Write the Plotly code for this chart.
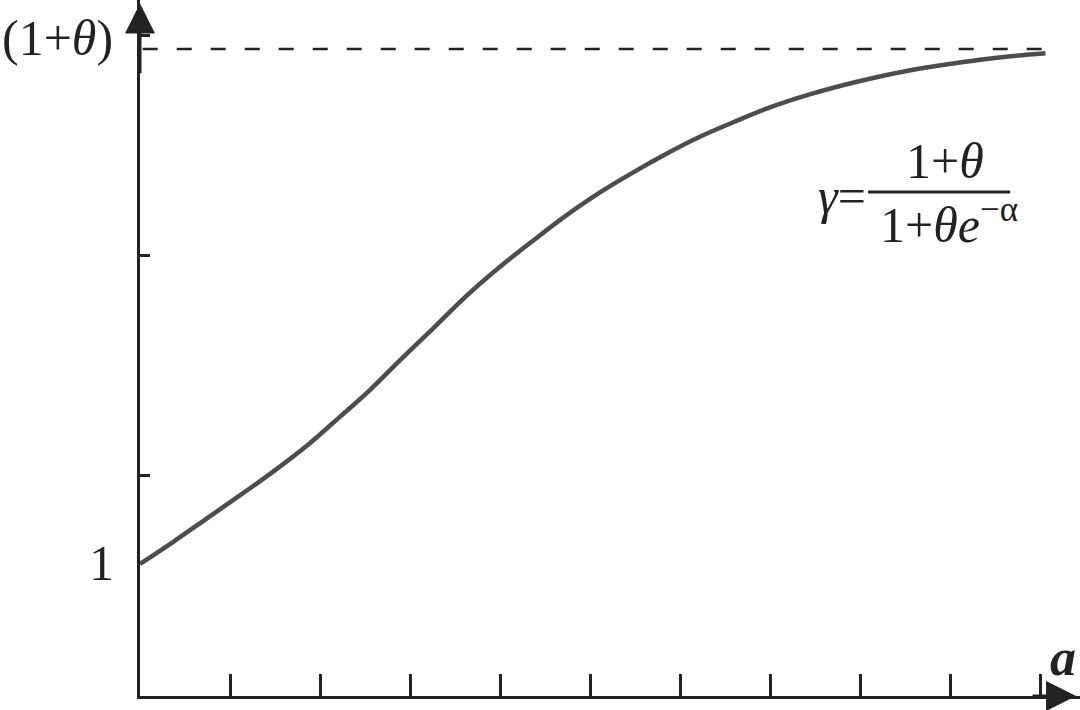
import plotly.graph_objects as go

# Curve gamma(alpha)
alpha = [0.0, 0.37, 0.74, 1.11, 1.48, 1.86, 2.22, 2.56, 2.89, 3.26, 3.63, 4.0,
         4.37, 4.74, 5.11, 5.48, 5.86, 6.22, 6.59, 6.97, 7.44, 8.0, 8.56, 9.11,
         9.67, 10.06]
gamma = [1.002, 1.045, 1.090, 1.135, 1.181, 1.232, 1.287, 1.340, 1.397, 1.459,
         1.522, 1.578, 1.629, 1.678, 1.722, 1.761, 1.798, 1.830, 1.858, 1.885,
         1.912, 1.938, 1.959, 1.974, 1.986, 1.992]

# Asymptote 1+theta
asym_x = [0.03, 10.03]
asym_y = [2.0, 2.0]

x_ticks = [1, 2, 3, 4, 5, 6, 7, 8, 9, 10]
y_ticks = [1.174, 1.599, 2.027]

X_RANGE = [0, 10.444]
Y_RANGE = [0.7461, 2.095]

SERIF = "Liberation Serif"
INK = "#222222"

fig = go.Figure()
fig.add_trace(go.Scatter(x=asym_x, y=asym_y, mode="lines",
                         line=dict(color=INK, width=2.5, dash="15px,19px"),
                         hoverinfo="skip", showlegend=False))
fig.add_trace(go.Scatter(x=alpha, y=gamma, mode="lines", line_shape="spline",
                         line=dict(color="#4d4d4d", width=4.5, smoothing=1.0),
                         hoverinfo="skip", showlegend=False))

ann = []
# axis arrowheads
ann.append(dict(x=0, y=2.088, ax=0, ay=1.95, xref="x", yref="y",
                axref="x", ayref="y", text="", showarrow=True, arrowhead=2,
                arrowsize=2.0, arrowwidth=3, arrowcolor=INK, standoff=0))
ann.append(dict(x=10.40, y=Y_RANGE[0], ax=9.9, ay=Y_RANGE[0], xref="x", yref="y",
                axref="x", ayref="y", text="", showarrow=True, arrowhead=2,
                arrowsize=2.0, arrowwidth=3, arrowcolor=INK, standoff=0))
# y labels (paper x so they can sit left of the axis)
ann.append(dict(x=-0.027, y=2.022, xref="paper", yref="y", text="(1+<i>θ</i>)",
                showarrow=False, xanchor="right", yanchor="middle",
                font=dict(family=SERIF, size=50, color=INK)))
ann.append(dict(x=-0.0255, y=1.004, xref="paper", yref="y", text="1",
                showarrow=False, xanchor="right", yanchor="middle",
                font=dict(family=SERIF, size=50, color=INK)))
# x label
ann.append(dict(x=10.25, y=0.82, xref="x", yref="y", text="<i><b>a</b></i>",
                showarrow=False, xanchor="center", yanchor="middle",
                font=dict(family=SERIF, size=52, color=INK)))
# formula
ann.append(dict(x=8.09, y=1.715, xref="x", yref="y", text="<i>γ</i>=",
                showarrow=False, xanchor="right", yanchor="middle",
                font=dict(family=SERIF, size=50, color=INK)))
ann.append(dict(x=8.944, y=1.783, xref="x", yref="y", text="1+<i>θ</i>",
                showarrow=False, xanchor="center", yanchor="middle",
                font=dict(family=SERIF, size=50, color=INK)))
ann.append(dict(x=8.2, y=1.665, xref="x", yref="y",
                text="1+<i>θe</i><sup>−α</sup>",
                showarrow=False, xanchor="left", yanchor="middle",
                font=dict(family=SERIF, size=50, color=INK)))

fig.add_shape(type="line", x0=8.09, x1=9.667, y0=1.7229, y1=1.7229,
              xref="x", yref="y", line=dict(color=INK, width=3))

fig.update_layout(
    width=1080, height=710,
    margin=dict(l=140, r=0, t=0, b=14),
    paper_bgcolor="white", plot_bgcolor="white",
    annotations=ann,
    xaxis=dict(range=X_RANGE, showgrid=False, zeroline=False,
               showline=True, linewidth=3, linecolor=INK,
               ticks="inside", ticklen=22, tickwidth=3, tickcolor=INK,
               tickvals=x_ticks, showticklabels=False, fixedrange=True),
    yaxis=dict(range=Y_RANGE, showgrid=False, zeroline=False,
               showline=True, linewidth=3, linecolor=INK,
               ticks="inside", ticklen=10, tickwidth=3, tickcolor=INK,
               tickvals=y_ticks, showticklabels=False, fixedrange=True),
)

fig.write_html("out.html", config={"displayModeBar": False},
               post_script="document.body.style.margin='0';")
